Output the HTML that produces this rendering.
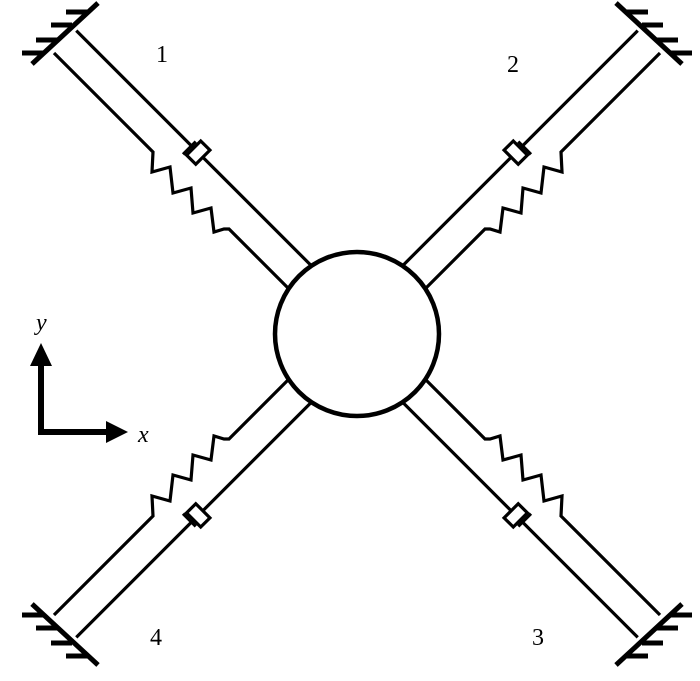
<!DOCTYPE html>
<html><head><meta charset="utf-8"><style>
html,body{margin:0;padding:0;background:#fff;}
svg{display:block;}
text{font-family:"Liberation Serif",serif;fill:#000;}
</style></head><body>
<svg width="700" height="681" viewBox="0 0 700 681" xmlns="http://www.w3.org/2000/svg">
<defs>
<g id="arm">
  <g transform="translate(357,334) rotate(-135)" fill="none" stroke="#000" stroke-width="3.2" stroke-linejoin="miter">
    <line x1="80" y1="16" x2="234" y2="16"/>
    <line x1="248" y1="16" x2="413" y2="16"/>
    <rect x="234" y="6" width="13" height="20"/>
    <line x1="250" y1="4" x2="250" y2="22"/>
  </g>
  <g fill="none" stroke="#000" stroke-width="3.2">
    <polyline points="54,53 153,152 152,172 170,167 173,193 191,188 193,213 211,208 214,232 224,229 229,229 289,289"/>
  </g>
  <g stroke="#000" stroke-width="5" fill="none">
    <line x1="98" y1="3" x2="32" y2="64"/>
    <line x1="87" y1="12" x2="66" y2="12"/>
    <line x1="72" y1="25" x2="51" y2="25"/>
    <line x1="57" y1="40" x2="36" y2="40"/>
    <line x1="43" y1="53" x2="22" y2="53"/>
  </g>
</g>
</defs>
<use href="#arm"/>
<use href="#arm" transform="translate(714,0) scale(-1,1)"/>
<use href="#arm" transform="translate(0,668) scale(1,-1)"/>
<use href="#arm" transform="translate(714,668) scale(-1,-1)"/>
<circle cx="357" cy="334" r="82" fill="#fff" stroke="#000" stroke-width="4.5"/>
<text x="156" y="62" font-size="24">1</text>
<text x="507" y="72" font-size="24">2</text>
<text x="532" y="645" font-size="24">3</text>
<text x="150" y="645" font-size="24">4</text>
<g stroke="#000" stroke-width="6" fill="none">
  <polyline points="41,362 41,432 110,432"/>
</g>
<polygon points="41,343 30,366 52,366" fill="#000"/>
<polygon points="128,432 106,421 106,443" fill="#000"/>
<text x="36" y="330" font-size="24" font-style="italic">y</text>
<text x="138" y="442" font-size="24" font-style="italic">x</text>
</svg>
</body></html>
